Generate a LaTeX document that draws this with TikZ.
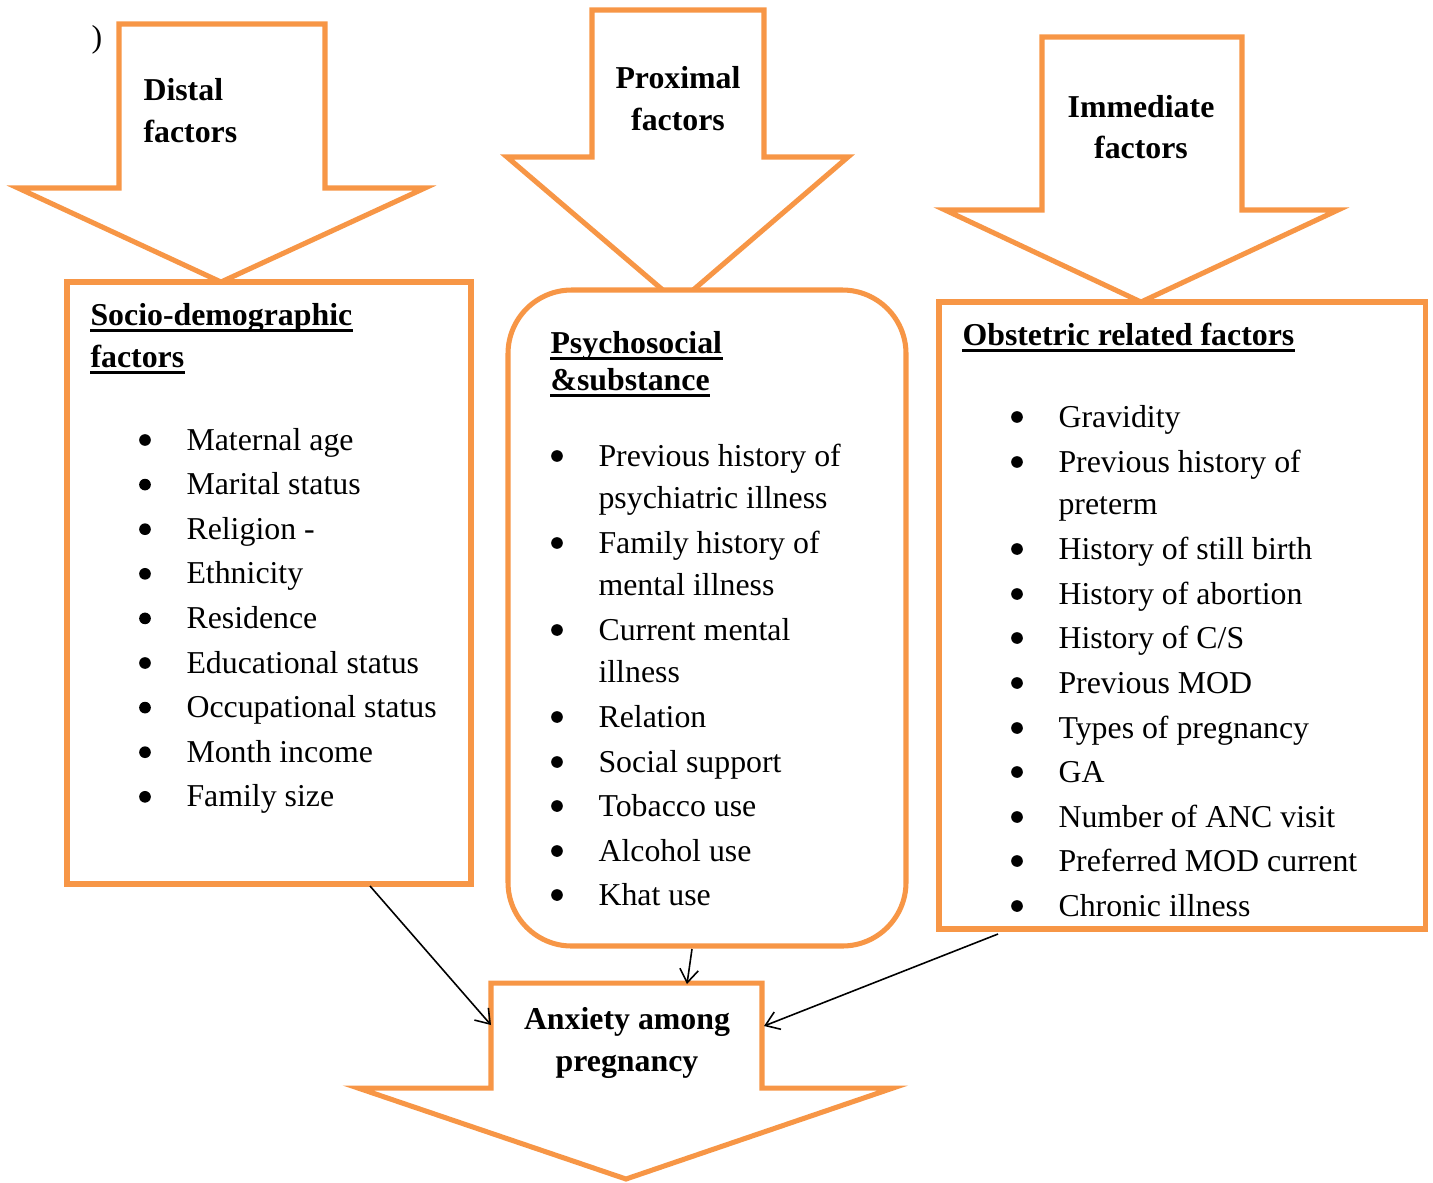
\documentclass[tikz,border=0pt]{standalone}
\usepackage{fontspec}
\setmainfont{Liberation Serif}
\usetikzlibrary{arrows.meta}
\definecolor{O}{RGB}{247,150,70}

\tikzset{
  flecha/.style={draw=O, line width=1.9pt, fill=white, line join=miter},
  caja/.style={draw=O, line width=1.9pt, fill=white},
  txt/.style={font=\fontsize{12}{14}\selectfont, inner sep=0pt, anchor=base west},
  tit/.style={txt, font=\fontsize{12}{14}\selectfont\bfseries},
  punto/.style={circle, fill=black, inner sep=0pt, minimum size=4.4pt},
  subr/.style={line width=1.1pt},
  con/.style={-{Straight Barb[length=5pt,width=7pt]}, line width=0.6pt}
}

\begin{document}
\begin{tikzpicture}[x=0.377pt, y=-0.377pt]
  \useasboundingbox (0,0) rectangle (1433,1182);
  \node[txt, anchor=base] (par) at (97,47) {)};

  %Flecha distal
  \draw[flecha] (119,24) -- (325,24) -- (325,188) -- (425,188) -- (221,282) -- (18,188) -- (119,188) -- cycle;
  \node[tit] (dis1) at (143,100) {Distal};
  \node[tit] (dis2) at (143,142) {factors};

  %Flecha proximal
  \draw[flecha] (592,10) -- (764,10) -- (764,157) -- (848,157) -- (678,303) -- (507,157) -- (592,157) -- cycle;
  \node[tit, anchor=base] (pro1) at (678,88) {Proximal};
  \node[tit, anchor=base] (pro2) at (678,130) {factors};

  %Flecha inmediata
  \draw[flecha] (1042,37) -- (1242,37) -- (1242,210) -- (1338,210) -- (1141,302) -- (945,210) -- (1042,210) -- cycle;
  \node[tit, anchor=base] (inm1) at (1141,117) {Immediate};
  \node[tit, anchor=base] (inm2) at (1141,158) {factors};

  %Cajas (tapan la punta de las flechas)
  \draw[caja] (67,282) rectangle (471,884);
  \draw[caja, rounded corners=24pt] (508,290) rectangle (906,946);
  \draw[caja] (939,302) rectangle (1425,929);

  %Titulos de las cajas, subrayados
  \node[tit] (soc1) at (90,325) {Socio-demographic};
  \node[tit] (soc2) at (90,367) {factors};
  \node[tit] (psy1) at (550,353) {Psychosocial};
  \node[tit] (psy2) at (550,390) {\&substance};
  \node[tit] (obs1) at (962,345) {Obstetric related factors};
  \foreach \n in {soc1,soc2,psy1,psy2,obs1}
    \draw[subr] ([yshift=-1.9pt]\n.base west) -- ([yshift=-1.9pt]\n.base east);

  %Lista socio-demografica
  \foreach \t [count=\i] in {Maternal age, Marital status, Religion -, Ethnicity, Residence, Educational status, Occupational status, Month income, Family size}{
    \node[punto] (socb\i) at (145,{440+44.6*(\i-1)}) {};
    \node[txt] (soct\i) at (186,{450+44.6*(\i-1)}) {\t};
  }

  %Lista psicosocial
  \foreach \y/\t [count=\i] in {466/Previous history of, 508/psychiatric illness, 553/Family history of, 595/mental illness, 640/Current mental, 682/illness, 727/Relation, 772/Social support, 816/Tobacco use, 861/Alcohol use, 905/Khat use}
    \node[txt] (psyt\i) at (598,\y) {\t};
  \foreach \y [count=\i] in {466,553,640,727,772,816,861,905}
    \node[punto] (psyb\i) at (557,\y-10) {};

  %Lista obstetrica
  \foreach \y/\t [count=\i] in {427/Gravidity, 472/Previous history of, 514/preterm, 559/History of still birth, 604/History of abortion, 648/{History of C/S}, 693/Previous MOD, 738/Types of pregnancy, 782/GA, 827/Number of ANC visit, 871/Preferred MOD current, 916/Chronic illness}
    \node[txt] (obst\i) at (1058,\y) {\t};
  \foreach \y [count=\i] in {427,472,559,604,648,693,738,782,827,871,916}
    \node[punto] (obsb\i) at (1017,\y-10) {};

  %Flecha final
  \draw[flecha] (491,983) -- (762,983) -- (762,1088) -- (893,1088) -- (626,1179) -- (358,1088) -- (491,1088) -- cycle;
  \node[tit, anchor=base] (anx1) at (627,1029) {Anxiety among};
  \node[tit, anchor=base] (anx2) at (627,1071) {pregnancy};

  %Conectores
  \coordinate (socout) at (370,886);
  \coordinate (psyout) at (692,949);
  \coordinate (obsout) at (998,934);
  \coordinate (anxl) at (491,1025);
  \coordinate (anxt) at (687,984);
  \coordinate (anxr) at (764,1026);
  \draw[con] (socout) -- (anxl);
  \draw[con] (psyout) -- (anxt);
  \draw[con] (obsout) -- (anxr);
\end{tikzpicture}
\end{document}
